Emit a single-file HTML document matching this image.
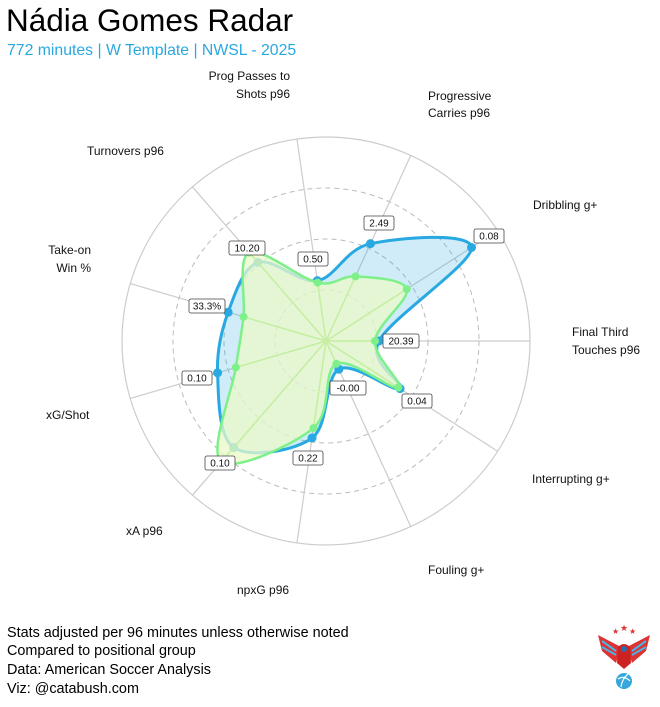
<!DOCTYPE html>
<html><head><meta charset="utf-8"><style>
body{margin:0;background:#fff;width:660px;height:702px;overflow:hidden;font-family:"Liberation Sans",sans-serif}
</style></head><body>
<svg id="s" width="660" height="702" xmlns="http://www.w3.org/2000/svg" font-family="Liberation Sans, sans-serif">
<text x="6" y="31" font-size="31.5" fill="#000">Nádia Gomes Radar</text>
<text x="7" y="55" font-size="15.8" fill="#29a8e0">772 minutes | W Template | NWSL - 2025</text>
<g id="grid" fill="none"></g>
<g id="polys"></g>
<g id="vals" font-size="10" text-anchor="middle"></g>
<g font-size="12" fill="#111">
<text x="290" y="80" text-anchor="end">Prog Passes to</text>
<text x="290" y="98" text-anchor="end">Shots p96</text>
<text x="428" y="100">Progressive</text>
<text x="428" y="117">Carries p96</text>
<text x="533" y="209">Dribbling g+</text>
<text x="572" y="336">Final Third</text>
<text x="572" y="354">Touches p96</text>
<text x="532" y="483">Interrupting g+</text>
<text x="428" y="574">Fouling g+</text>
<text x="237" y="594">npxG p96</text>
<text x="126" y="535">xA p96</text>
<text x="46" y="419">xG/Shot</text>
<text x="91" y="254" text-anchor="end">Take-on</text>
<text x="91" y="272" text-anchor="end">Win %</text>
<text x="87" y="155">Turnovers p96</text>
</g>
<g font-size="14.4" fill="#000">
<text x="7" y="637">Stats adjusted per 96 minutes unless otherwise noted</text>
<text x="7" y="655">Compared to positional group</text>
<text x="7" y="674">Data: American Soccer Analysis</text>
<text x="7" y="693">Viz: @catabush.com</text>
</g>
<g transform="translate(624,655)">
<text x="-12" y="-21" font-size="8" fill="#d33">★</text><text x="-4" y="-24" font-size="9" fill="#d33">★</text><text x="5" y="-21" font-size="8" fill="#d33">★</text>
<path d="M-3,-8 L-26,-20 L-22,-4 L-8,8 Z" fill="#d33"/><path d="M3,-8 L26,-20 L22,-4 L8,8 Z" fill="#d33"/>
<path d="M-22,-14 L-8,-4 M-22,-8 L-8,0 M22,-14 L8,-4 M22,-8 L8,0" stroke="#4ab4e6" stroke-width="2"/>
<path d="M-6,-8 Q0,-14 6,-8 L7,8 L0,14 L-7,8 Z" fill="#c22"/>
<circle cx="0" cy="-6" r="3" fill="#2b6cb0"/>
<circle cx="0" cy="26" r="8" fill="#35a7dc"/>
<path d="M-6,24 Q0,20 6,26 M-3,32 Q-2,24 4,19" stroke="#fff" fill="none" stroke-width="1.2"/>
</g>
</svg>
<script>
var cx=326,cy=341,NS="http://www.w3.org/2000/svg";
function el(t,a,p){var e=document.createElementNS(NS,t);for(var k in a)e.setAttribute(k,a[k]);p.appendChild(e);return e;}
var g=document.getElementById('grid');
el('circle',{cx:cx,cy:cy,r:204,stroke:'#ccc','stroke-width':1.2},g);
[51,102,153].forEach(function(r){el('circle',{cx:cx,cy:cy,r:r,stroke:'#bbb','stroke-width':1,'stroke-dasharray':'5,4'},g);});
var n=11,ang=[];for(var i=0;i<n;i++)ang.push(i*2*Math.PI/n);
ang.forEach(function(a){el('line',{x1:cx,y1:cy,x2:cx+204*Math.cos(a),y2:cy-204*Math.sin(a),stroke:'#ccc','stroke-width':1.2},g);});
var blue=[53,173,107,61,104,102,113,141,98,31,88];
var green=[49,96,71,59,117,86,94,160,88,25,86];
function pts(v){return v.map(function(r,i){return [cx+r*Math.cos(ang[i]),cy-r*Math.sin(ang[i])];});}
function path(p){var d='',m=p.length,t=0.5;for(var i=0;i<m;i++){var p0=p[(i-1+m)%m],p1=p[i],p2=p[(i+1)%m],p3=p[(i+2)%m];
if(i==0)d+='M'+p1[0]+','+p1[1];
var c1=[p1[0]+(p2[0]-p0[0])*t/3,p1[1]+(p2[1]-p0[1])*t/3],c2=[p2[0]-(p3[0]-p1[0])*t/3,p2[1]-(p3[1]-p1[1])*t/3];
d+='C'+c1+' '+c2+' '+p2;}return d+'Z';}
var pg=document.getElementById('polys');
var pb=pts(blue),pgp=pts(green);
el('path',{d:path(pb),fill:'rgba(41,169,225,0.22)',stroke:'#29a9e1','stroke-width':3},pg);
pb.forEach(function(p){el('circle',{cx:p[0],cy:p[1],r:4.5,fill:'#29a9e1'},pg);});
el('path',{d:path(pgp),fill:'rgba(235,250,200,0.75)',stroke:'#7ef08a','stroke-width':2.5},pg);
ang.forEach(function(a,i){el('line',{x1:cx,y1:cy,x2:pgp[i][0],y2:pgp[i][1],stroke:'#c5eea0','stroke-width':1.5},pg);});
pgp.forEach(function(p){el('circle',{cx:p[0],cy:p[1],r:4,fill:'#7ef08a'},pg);});
var vals=[['2.49',379,223],['0.08',489,236],['10.20',247,248],['0.50',313,259],['33.3%',207,306],['20.39',401,341],['0.10',197,378],['-0.00',348,388],['0.04',417,401],['0.22',308,458],['0.10',220,463]];
var vg=document.getElementById('vals');
vals.forEach(function(v){var w=v[0].length*6+6;el('rect',{x:v[1]-w/2,y:v[2]-7,width:w,height:14,rx:2,fill:'#fff',stroke:'#444','stroke-width':0.8},vg);
var t=el('text',{x:v[1],y:v[2]+3.5,fill:'#111'},vg);t.textContent=v[0];});
</script>
</body></html>
